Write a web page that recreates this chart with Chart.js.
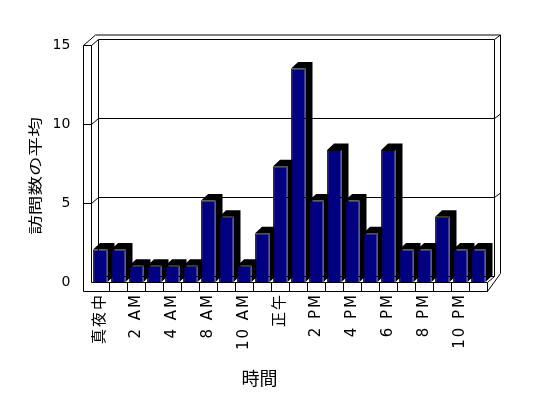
<!DOCTYPE html>
<html>
<head>
<meta charset="utf-8">
<script src="https://cdn.jsdelivr.net/npm/chart.js@4/dist/chart.umd.min.js"></script>
<style>
html,body{margin:0;padding:0;background:#fff;}
#wrap{width:548px;height:398px;}
</style>
</head>
<body>
<div id="wrap"><canvas id="c" width="548" height="398"></canvas></div>
<script>
// ---- data ----
const categories = ['真夜中','1 AM','2 AM','3 AM','4 AM','7 AM','8 AM','9 AM','10 AM','11 AM','正午','1 PM','2 PM','3 PM','4 PM','5 PM','6 PM','7 PM','8 PM','9 PM','10 PM','11 PM'];
const shownLabels = ['真夜中','','2 AM','','4 AM','','8 AM','','10 AM','','正午','','2 PM','','4 PM','','6 PM','','8 PM','','10 PM',''];
const visits = [2,2,1,1,1,1,5,4,1,3,7.1,13.1,5,8.1,5,3,8.1,2,2,4,2,2];
const yTicks = [0,5,10,15];
const yTitle = '訪問数の平均';
const xTitle = '時間';

// ---- 3D look (walls, floor, gridlines, bar depth) and axis titles ----
const frame3d = {
  id: 'frame3d',
  beforeDatasetsDraw(chart) {
    const ctx = chart.ctx;
    const xs = chart.scales.x, ys = chart.scales.y;
    const L = xs.left, R = xs.right, B = ys.bottom, T = ys.top;
    const n = categories.length, cw = (R - L) / n;
    const h = v => Math.round(v) + 0.5;
    const dx = 7, dy = -6;
    const wl = h(L - 8), Lr = h(L), Rr = h(R), Bt = h(B), T0 = h(T);
    const fb = h(B + 9);
    const bl = Lr + dx, br = Rr + dx, bt = T0 + dy;
    const ro = br + 6;
    ctx.save();
    ctx.strokeStyle = '#000';
    ctx.lineWidth = 1;
    const line = pts => {
      ctx.beginPath();
      ctx.moveTo(pts[0][0], pts[0][1]);
      for (let i = 1; i < pts.length; i++) ctx.lineTo(pts[i][0], pts[i][1]);
      ctx.stroke();
    };
    // left wall
    line([[wl, T0], [wl, fb]]);
    line([[Lr, T0], [Lr, Bt]]);
    line([[wl, T0], [Lr, T0]]);
    line([[wl, T0], [wl + 12, T0 - 10.5]]);
    line([[Lr, T0], [bl, bt]]);
    // back wall
    line([[wl + 12, T0 - 10.5], [ro, T0 - 10.5]]);
    line([[bl, bt], [br, bt]]);
    line([[br, bt], [ro, T0 - 10.5]]);
    line([[br, bt], [br, Bt + dy]]);
    line([[ro, T0 - 10.5], [ro, Bt + dy - 3]]);
    line([[bl, bt], [bl, Bt + dy]]);
    line([[bl, Bt + dy], [br, Bt + dy]]);
    // floor
    line([[Lr, Bt], [Rr, Bt]]);
    line([[wl, fb], [Rr, fb]]);
    line([[Rr, Bt], [Rr, fb]]);
    line([[Rr, Bt], [br, Bt + dy]]);
    line([[Rr, fb], [ro, Bt + dy - 3]]);
    for (let k = 1; k < n; k++) {
      const x = h(L + k * cw);
      line([[x, Bt], [x, fb]]);
    }
    // gridlines
    yTicks.forEach(v => {
      if (v === 0 || v === 15) return;
      const yf = h(ys.getPixelForValue(v));
      line([[wl, yf], [Lr, yf], [bl, yf + dy], [br, yf + dy], [ro, yf + dy - 4.5]]);
    });
    // bar depth faces
    const meta = chart.getDatasetMeta(0);
    ctx.fillStyle = '#000';
    const bdx = 7, bdy = -6.5;
    meta.data.forEach(b => {
      const p = b.getProps(['x', 'y', 'base', 'width'], true);
      const l = p.x - p.width / 2, r = p.x + p.width / 2;
      ctx.beginPath();
      ctx.moveTo(l, p.y);
      ctx.lineTo(l + bdx, p.y + bdy);
      ctx.lineTo(r + bdx, p.y + bdy);
      ctx.lineTo(r + bdx, p.base + bdy);
      ctx.lineTo(r, p.base);
      ctx.lineTo(r, p.y);
      ctx.closePath();
      ctx.fill();
    });
    ctx.restore();
  },
  afterDatasetsDraw(chart) {
    // x tick labels (z = 1) are drawn after this point: widen their spacing
    chart.ctx.letterSpacing = '2px';
  },
  afterDraw(chart) {
    const ctx = chart.ctx;
    ctx.letterSpacing = '0px';
    ctx.save();
    ctx.fillStyle = '#000';
    ctx.textAlign = 'center';
    ctx.textBaseline = 'middle';
    // x axis title
    ctx.font = "18px 'Noto Sans CJK JP'";
    ctx.fillText(xTitle, 259.5, 378);
    // y axis title (rotated, stretched along the text like the reference)
    ctx.translate(35, 176);
    ctx.rotate(-Math.PI / 2);
    ctx.scale(1.4, 1);
    ctx.font = "14px 'Noto Sans CJK JP'";
    ctx.fillText(yTitle, 0, 0);
    ctx.restore();
  }
};

Chart.defaults.color = '#000';
Chart.defaults.font.family = "'DejaVu Sans', 'Noto Sans CJK JP', sans-serif";

new Chart(document.getElementById('c'), {
  type: 'bar',
  data: {
    labels: categories,
    datasets: [{
      label: yTitle,
      data: visits,
      xAxisID: 'x',
      yAxisID: 'yb',
      backgroundColor: '#000080',
      borderColor: '#000000',
      borderWidth: 1,
      barPercentage: 0.8,
      categoryPercentage: 1.0
    }]
  },
  options: {
    responsive: false,
    devicePixelRatio: 1,
    animation: false,
    events: [],
    layout: { padding: { top: 45, right: 60.7, bottom: 0, left: 0 } },
    plugins: { legend: { display: false }, tooltip: { enabled: false }, title: { display: false } },
    scales: {
      x: {
        type: 'category',
        position: 'bottom',
        grid: { display: false, drawTicks: false },
        border: { display: false },
        ticks: {
          z: 1,
          autoSkip: false, maxRotation: 90, minRotation: 90, padding: 11,
          font: { size: 15 },
          callback: (v, i) => shownLabels[i]
        },
        title: { display: false, text: xTitle },
        afterFit: s => { s.height = 116; }
      },
      y: {
        type: 'linear',
        position: 'left',
        min: 0, max: 15,
        afterBuildTicks: s => { s.ticks = yTicks.map(v => ({ value: v })); },
        grid: { display: false, drawTicks: false },
        border: { display: false },
        ticks: { padding: 21, font: { size: 14 } },
        title: { display: false, text: yTitle },
        afterFit: s => { s.width = 91.3; }
      },
      yb: {
        type: 'linear',
        display: false,
        min: 0, max: 14.55
      }
    }
  },
  plugins: [frame3d]
});
</script>
</body>
</html>
